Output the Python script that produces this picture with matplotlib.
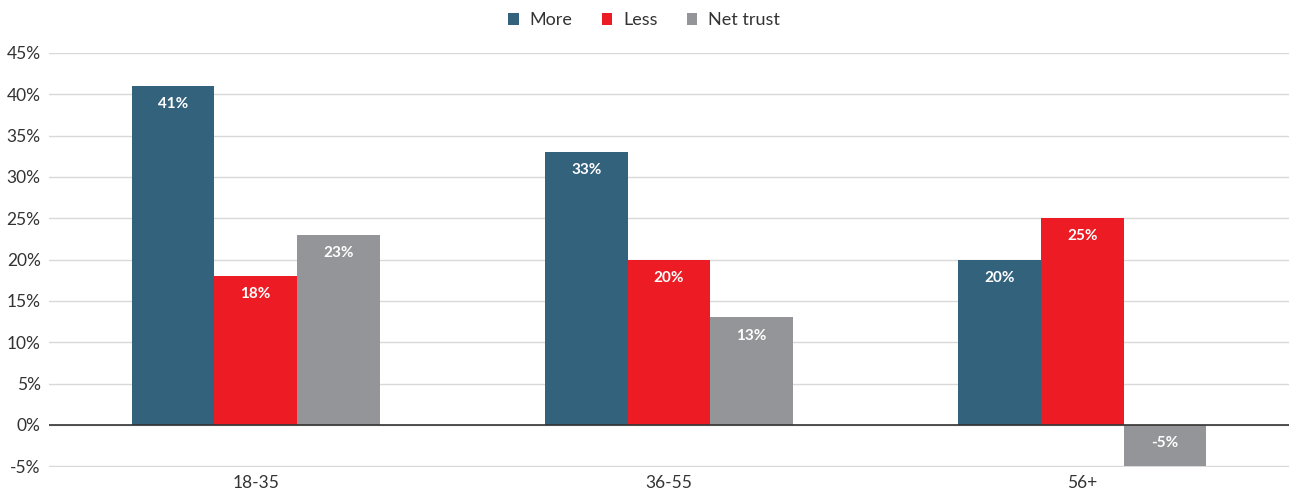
import numpy as np
import matplotlib.pyplot as plt
from matplotlib.ticker import FuncFormatter

plt.rcParams['font.family'] = ['Lato', 'DejaVu Sans']

# age groups and shares (percent)
groups = ["18-35", "36-55", "56+"]
more = [41, 33, 20]
less = [18, 20, 25]
net_trust = [23, 13, -5]

series = [("More", more, "#33627d"),
          ("Less", less, "#ed1c24"),
          ("Net trust", net_trust, "#939598")]

fig = plt.figure(figsize=(12.89, 4.95), dpi=100)
ax = fig.add_axes([0.038, 0.0566, 0.962, 0.8364])

x = np.arange(len(groups))
w = 0.2
for i, (name, vals, col) in enumerate(series):
    pos = x + (i - 1) * w
    ax.bar(pos, vals, width=w, color=col, label=name, zorder=2)
    for p, v in zip(pos, vals):
        top = max(v, 0)
        ax.annotate(f"{v}%", (p, top), xytext=(0, -8), textcoords="offset points",
                    ha="center", va="top", color="white", fontsize=11,
                    fontweight="bold", zorder=3)

ax.set_xlim(-0.5, 2.5)
ax.set_ylim(-5.1, 45)
ax.set_yticks(np.arange(-5, 46, 5))
ax.yaxis.set_major_formatter(FuncFormatter(lambda v, _: f"{v:.0f}%"))
ax.set_xticks(x)
ax.set_xticklabels(groups)
ax.grid(axis="y", color="#d9d9d9", linewidth=1, zorder=0)
ax.axhline(0, color="#333333", linewidth=1.2, zorder=3)
for s in ax.spines.values():
    s.set_visible(False)
ax.tick_params(length=0, labelsize=12.5, colors="#333333")
ax.tick_params(axis="y", pad=6)
ax.tick_params(axis="x", pad=6)

ax.legend(loc="lower center", bbox_to_anchor=(0.48, 1.02), ncol=3, frameon=False,
          fontsize=13, handlelength=0.6, handleheight=0.6, handletextpad=0.6,
          columnspacing=1.6, labelcolor="#333333")

fig.savefig("out.png", dpi=100)
